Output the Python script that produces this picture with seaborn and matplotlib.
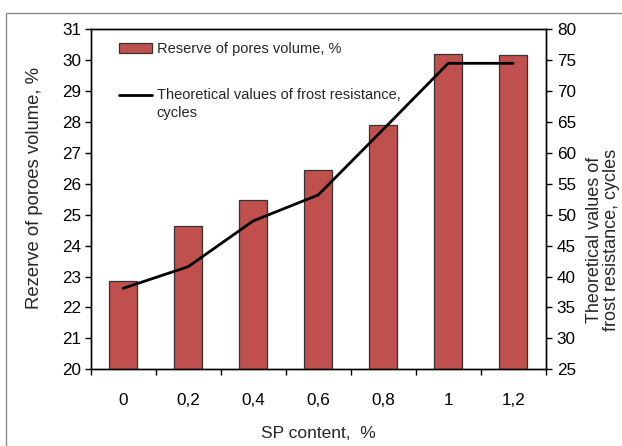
import numpy as np
import pandas as pd
import matplotlib
matplotlib.use("Agg")
import matplotlib.pyplot as plt
from matplotlib.patches import Rectangle
from matplotlib.ticker import FixedLocator, MultipleLocator
from matplotlib.legend_handler import HandlerLine2D
import seaborn as sns

# ---- data ----
sp_content = ["0", "0,2", "0,4", "0,6", "0,8", "1", "1,2"]
pores_reserve = [22.86, 24.65, 25.49, 26.44, 27.90, 30.19, 30.16]
frost_cycles = [38.1, 41.6, 49.0, 53.2, 63.8, 74.5, 74.5]

bar_label = "Reserve of pores volume, %"
line_label = "Theoretical values of frost resistance,\ncycles"
xlabel = "SP content,  %"
ylabel_left = "Rezerve of poroes volume, %"
ylabel_right = "Theoretical values of\nfrost resistance, cycles"

sns.set_theme(style="white")
plt.rcParams["font.family"] = ["Liberation Sans", "DejaVu Sans"]

fig = plt.figure(figsize=(6.22, 4.46), dpi=100)
ax = fig.add_axes([0.1458, 0.172, 0.7315, 0.7623])

df = pd.DataFrame({"sp": sp_content, "pores": pores_reserve, "frost": frost_cycles})
df["pos"] = np.arange(len(sp_content))

sns.barplot(data=df, x="sp", y="pores", ax=ax, color="#C0504D", saturation=1,
            width=0.43, edgecolor="#333333", linewidth=0.9, label=bar_label)
if ax.get_legend() is not None:
    ax.get_legend().remove()

ax2 = ax.twinx()
sns.lineplot(data=df, x="pos", y="frost", ax=ax2, color="black", linewidth=2.0,
             label=line_label, legend=False)
if ax2.get_legend() is not None:
    ax2.get_legend().remove()

ax.set_xlim(-0.5, len(sp_content) - 0.5)
ax.set_ylim(20, 31)
ax2.set_ylim(25, 80)
ax.yaxis.set_major_locator(MultipleLocator(1))
ax2.yaxis.set_major_locator(MultipleLocator(5))

for spine in list(ax.spines.values()) + list(ax2.spines.values()):
    spine.set_color("black")
    spine.set_linewidth(1.0)

# x ticks: labels at categories, tick marks at boundaries
ax.set_xticks(np.arange(len(sp_content)))
ax.set_xticklabels(sp_content, fontsize=12.3)
ax.xaxis.set_minor_locator(FixedLocator(np.arange(-0.5, len(sp_content), 1.0)))
ax.tick_params(axis="x", which="major", length=0, pad=17, colors="black")
ax.tick_params(axis="x", which="minor", bottom=True, length=4.5, width=1.0,
               direction="out", color="black")

ax.tick_params(axis="y", left=True, length=4, width=1.0, direction="out", pad=3, colors="black")
ax2.tick_params(axis="y", right=True, length=4, width=1.0, direction="out", pad=4, colors="black")
for lab in ax.get_yticklabels() + ax2.get_yticklabels():
    lab.set_fontsize(12.3)

ax.set_xlabel(xlabel, fontsize=12.5)
ax.xaxis.set_label_coords(0.5, -0.167)
ax.set_ylabel(ylabel_left, fontsize=13.3)
ax.yaxis.set_label_coords(-0.104, 0.532)
ax2.set_ylabel(ylabel_right, fontsize=13, rotation=90, linespacing=1.0)
ax2.yaxis.set_label_coords(1.088, 0.38)


class FirstLineAlignedLine(HandlerLine2D):
    """Line handle aligned with the first line of a two-line label."""
    def __init__(self, shift, **kw):
        super().__init__(**kw)
        self.shift = shift

    def create_artists(self, legend, orig_handle, xdescent, ydescent, width, height,
                       fontsize, trans):
        arts = super().create_artists(legend, orig_handle, xdescent, ydescent, width,
                                      height, fontsize, trans)
        for a in arts:
            a.set_ydata(np.asarray(a.get_ydata()) + self.shift)
        return arts


h1, l1 = ax.get_legend_handles_labels()
h2, l2 = ax2.get_legend_handles_labels()
entries = {}
for h, l in zip(h1 + h2, l1 + l2):
    if l not in entries:
        entries[l] = h
handles = list(entries.values())
labels = list(entries.keys())
leg = ax2.legend(handles, labels, loc="upper left", bbox_to_anchor=(0.062, 0.962),
                 frameon=False, borderpad=0, borderaxespad=0, handlelength=2.3,
                 handletextpad=0.3, labelspacing=2.15, fontsize=10.5,
                 handler_map={handles[-1]: FirstLineAlignedLine(shift=6.5)})
for t in leg.get_texts():
    t.set_linespacing(1.4)

# outer chart border
fig.patches.append(Rectangle((6 / 622, -0.02), 1.0, 0.971 + 0.02, transform=fig.transFigure,
                             fill=False, edgecolor="#8c8c8c", linewidth=1.0))

fig.savefig("out.png", dpi=100)
